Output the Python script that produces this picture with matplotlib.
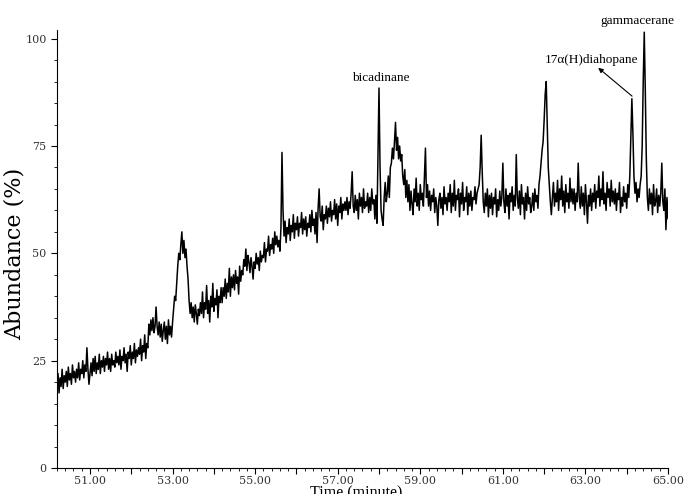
import numpy as np
import matplotlib
matplotlib.use("Agg")
import matplotlib.pyplot as plt
from matplotlib.ticker import MultipleLocator, FuncFormatter

# chromatogram, one row = 0.5 min sampled every 0.025 min starting at 50.20
t_start = 50.2
t_step = 0.025
abundance = [
    18, 22, 17.5, 21, 19, 23, 18.5, 21.5, 20, 22.5, 19, 23.5, 20.5, 22, 19.5, 24, 21, 22.5, 20, 23,
    21, 24.5, 20.5, 23, 22, 25, 21, 24, 22.5, 28, 23, 19.5, 22, 24.5, 21.5, 25.5, 22.5, 26, 22, 24.5,
    23, 26.5, 22, 25, 23.5, 26, 22.5, 25.5, 24, 27, 23, 25.5, 22.5, 26.5, 24, 25, 23.5, 27, 24.5, 26,
    24, 27.5, 23, 26, 25, 28, 24.5, 26.5, 22.5, 27, 25.5, 28.5, 24, 27, 25.5, 29, 24.5, 27.5, 26, 28,
    26.5, 30, 25, 28.5, 27, 31, 25.5, 29, 28, 33.5, 31, 34.5, 32, 35, 31.5, 33, 37.5, 33, 31, 34,
    30.5, 33.5, 29.5, 32, 34, 30, 33, 29, 34.5, 31, 33, 30.5, 34, 37, 40, 39, 43, 47, 50, 48.5,
    52, 55, 50, 53, 49, 51, 47, 44, 39, 36, 38.5, 35, 37.5, 34, 38, 36, 33.5, 37, 35.5, 38.5,
    36, 41, 35, 38.5, 37, 42.5, 36, 39, 34, 40, 37.5, 43, 36.5, 39.5, 38, 41.5, 35, 40, 38.5, 42,
    38.5, 42, 40, 44, 39.5, 43, 41, 46.5, 40, 44.5, 42, 45, 41.5, 46, 43, 44.5, 40.5, 47, 43.5, 46,
    45, 48.5, 47, 51, 46, 49.5, 48, 45.5, 49, 47, 44, 48, 46.5, 50, 47.5, 49, 46, 50.5, 48, 49.5,
    49, 52.5, 48, 51, 50.5, 54, 49.5, 52, 51, 53.5, 50, 55, 52, 54, 51.5, 53, 50.5, 56, 73.5, 60,
    54, 57.5, 52.5, 56, 54.5, 58, 53, 56.5, 55, 59, 53.5, 57, 55.5, 58.5, 54, 57, 56, 59.5, 54.5, 58,
    55.5, 58.5, 54, 57, 56, 59, 55, 60, 56.5, 58, 54.5, 59.5, 52.5, 60.5, 65, 58.5, 57.5, 61, 55.5, 59,
    58, 61, 57, 60.5, 58.5, 62, 57.5, 60, 59, 62.5, 58, 61.5, 56.5, 61, 59.5, 63, 58, 61.5, 60, 62,
    60, 63, 59, 62, 60.5, 64, 69, 61, 59.5, 63.5, 60, 62.5, 58, 64, 61, 63, 59.5, 65, 60.5, 62,
    61, 64, 59.5, 63, 60, 65, 61.5, 62.5, 58, 63.5, 57, 72, 88.5, 70, 60, 58, 56.5, 63, 66.5, 62,
    64, 68, 63, 70, 71, 74.5, 72, 76, 80.5, 74, 77, 72, 75, 71.5, 73, 68, 66, 69.5, 63, 67,
    62, 66, 60, 64.5, 61.5, 59, 65, 62, 67.5, 61, 64, 60, 66, 62.5, 64, 61, 68, 74.5, 63, 66,
    61, 64.5, 60, 63.5, 62, 65, 59.5, 63, 61, 56.5, 62.5, 64, 60.5, 63, 59, 65.5, 61.5, 63, 60, 64,
    62, 66, 59.5, 64, 61, 67, 60, 63.5, 62.5, 65, 58.5, 64, 61.5, 66.5, 60, 63, 62, 65.5, 59, 64,
    61, 64.5, 60, 63, 62.5, 65.5, 61.5, 64, 65, 66, 70, 77.5, 69, 62, 59.5, 64, 61, 65, 58.5, 63.5,
    60.5, 64, 59, 63, 61.5, 65, 58.5, 62.5, 60, 64.5, 61, 63, 71, 62, 59.5, 65, 61, 63.5, 58, 64,
    62, 65.5, 60, 63.5, 61, 73, 63, 60.5, 64.5, 59, 66, 61.5, 63, 58, 64, 60, 65.5, 61.5, 63, 59.5,
    61, 64, 60, 65, 62, 63.5, 60.5, 66, 68, 71, 74, 76, 81, 87, 90, 80, 70, 66, 62, 59,
    63, 66.5, 61, 64, 62, 67, 60, 65, 62.5, 68, 61, 64.5, 59.5, 66, 62, 64, 60.5, 67.5, 62, 65,
    61.5, 65, 60, 64, 62, 71, 63, 60.5, 65.5, 61, 64, 59, 66, 62, 57, 63.5, 61, 65, 60, 64,
    62, 66, 60.5, 64.5, 63, 68, 61, 65, 62.5, 69, 61.5, 64, 60, 66.5, 63, 65, 61, 67, 62, 64.5,
    61.5, 65, 60, 64, 62.5, 66.5, 59.5, 63, 61, 65.5, 62, 64, 60.5, 66, 63, 68, 77, 86, 78, 68,
    64, 66.5, 62, 65, 63, 66, 68, 75, 90, 101.5, 88, 72, 63, 60, 65, 61.5, 64, 59, 66, 61,
    62, 65, 59.5, 63.5, 61, 64, 71, 62, 60, 65, 55.5, 63, 58, 64,
]
time = t_start + t_step * np.arange(len(abundance))

labels = ["bicadinane", "17\u03b1(H)diahopane", "gammacerane"]

fig = plt.figure(figsize=(6.84, 4.94), dpi=100)
ax = fig.add_axes([0.0833, 0.0526, 0.8933, 0.8866])

ax.plot(time, abundance, color="black", linewidth=1.1)

ax.set_xlim(50.2, 65.0)
ax.set_ylim(0, 102)

ax.spines["top"].set_visible(False)
ax.spines["right"].set_visible(False)

ax.xaxis.set_major_locator(MultipleLocator(1))
ax.xaxis.set_minor_locator(MultipleLocator(0.2))
ax.xaxis.set_major_formatter(
    FuncFormatter(lambda v, p: "%.2f" % v if int(round(v)) % 2 == 1 else ""))
ax.yaxis.set_major_locator(MultipleLocator(25))
ax.yaxis.set_minor_locator(MultipleLocator(5))

ax.tick_params(which="major", length=4, width=0.8, direction="out",
               labelsize=8, labelcolor="#333333")
ax.tick_params(which="minor", length=2, width=0.6, direction="out")
ax.tick_params(axis="x", which="major", pad=1.5)
for lab in ax.get_xticklabels() + ax.get_yticklabels():
    lab.set_family("DejaVu Serif")

ax.set_xlabel("Time (minute)", family="Liberation Serif", fontsize=11.5)
ax.xaxis.set_label_coords(0.49, -0.040)
ax.set_ylabel("Abundance (%)", family="DejaVu Serif", fontsize=16)
ax.yaxis.set_label_coords(-0.052, 0.49)

ax.text(58.04, 90.9, labels[0], ha="center", va="center",
        family="Liberation Serif", fontsize=9.5)
ax.text(63.16, 95.1, labels[1], ha="center", va="center",
        family="Liberation Serif", fontsize=9.5)
ax.text(64.25, 104.2, labels[2], ha="center", va="center",
        family="Liberation Serif", fontsize=9.5)
ax.annotate("", xy=(63.31, 93.2), xytext=(64.13, 86.6),
            arrowprops=dict(arrowstyle="-|>", color="black", lw=0.8,
                            mutation_scale=7, shrinkA=0, shrinkB=0))

fig.savefig("out.png", dpi=100)
